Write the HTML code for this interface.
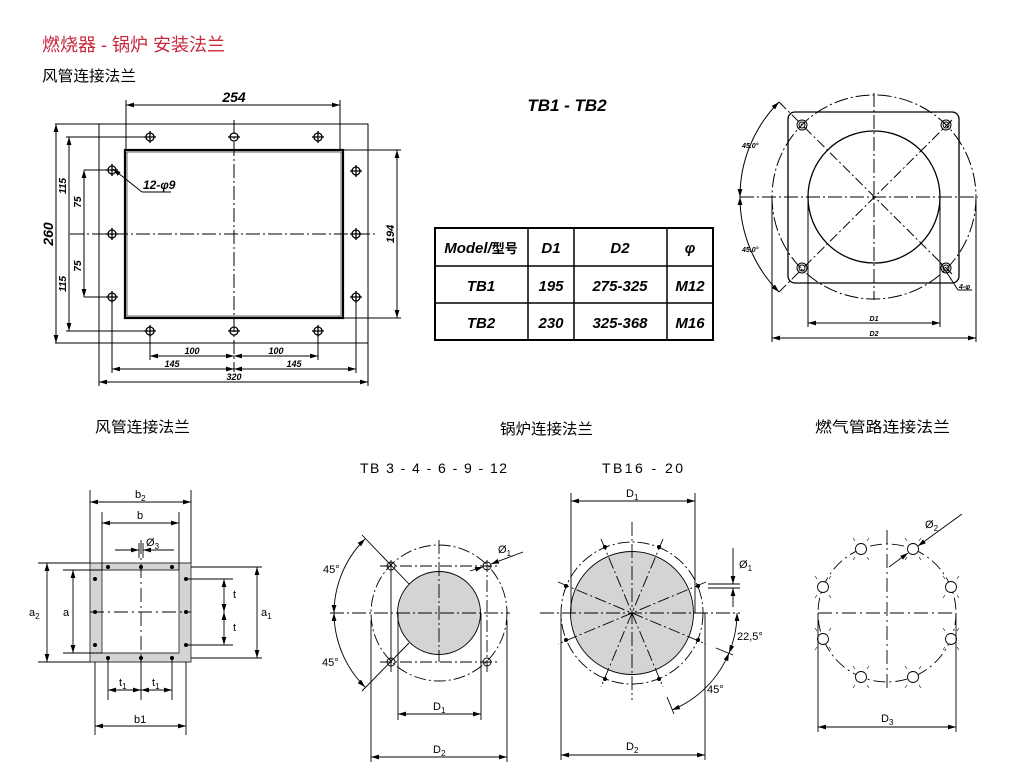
<!DOCTYPE html>
<html><head><meta charset="utf-8"><style>
html,body{margin:0;padding:0;background:#fff;}
svg{display:block;}
.cn{font-family:"Liberation Sans","Noto Sans CJK SC",sans-serif;}
.it{font-family:"Liberation Sans Narrow","Liberation Sans",sans-serif;font-style:italic;font-weight:bold;}
.dd{stroke-dasharray:14 3 2 3;}
</style></head><body>
<svg width="1010" height="779" viewBox="0 0 1010 779" xmlns="http://www.w3.org/2000/svg">
<defs>
<marker id="a" viewBox="0 0 10 6" refX="10" refY="3" markerWidth="8" markerHeight="5" orient="auto-start-reverse" markerUnits="userSpaceOnUse"><path d="M0,0 L10,3 L0,6z" fill="#000"/></marker>
</defs>
<text x="42" y="51" class="cn" font-size="18" fill="#c8283c">燃烧器 -  锅炉  安装法兰</text>
<text x="42" y="81" class="cn" font-size="15" fill="#000" textLength="94" lengthAdjust="spacingAndGlyphs">风管连接法兰</text>

<!-- Drawing 1 -->
<g stroke="#000" fill="none" stroke-width="1">
<rect x="99" y="124" width="269" height="219"/>
<rect x="125" y="150" width="218" height="168" stroke-width="2.2"/>
<rect x="127" y="152" width="214" height="164" stroke-width="0.6"/>
<line x1="55" y1="124" x2="99" y2="124"/><line x1="55" y1="343" x2="99" y2="343"/>
<line x1="234" y1="120" x2="234" y2="372" class="dd"/>
<line x1="70" y1="234" x2="375" y2="234" class="dd"/>
<g stroke-width="1.3">
<circle cx="150" cy="137" r="4"/><circle cx="234" cy="137" r="4"/><circle cx="318" cy="137" r="4"/>
<circle cx="150" cy="331" r="4"/><circle cx="234" cy="331" r="4"/><circle cx="318" cy="331" r="4"/>
<circle cx="112" cy="170" r="4"/><circle cx="112" cy="234" r="4"/><circle cx="112" cy="297" r="4"/>
<circle cx="356" cy="171" r="4"/><circle cx="356" cy="234" r="4"/><circle cx="356" cy="297" r="4"/>
<path d="M144 137h12M150 131v12M228 137h12M312 137h12M318 131v12M144 331h12M150 325v12M228 331h12M312 331h12M318 325v12M106 170h12M112 164v12M106 234h12M112 228v12M106 297h12M112 291v12M350 171h12M356 165v12M350 234h12M356 228v12M350 297h12M356 291v12"/>
</g>
<line x1="126" y1="105" x2="340" y2="105" marker-start="url(#a)" marker-end="url(#a)"/>
<line x1="126" y1="100" x2="126" y2="150"/><line x1="340" y1="100" x2="340" y2="150"/>
<line x1="56" y1="124" x2="56" y2="343" marker-start="url(#a)" marker-end="url(#a)"/>
<line x1="69" y1="137" x2="69" y2="331" marker-start="url(#a)" marker-end="url(#a)"/>
<line x1="66" y1="137" x2="150" y2="137"/><line x1="66" y1="331" x2="150" y2="331"/>
<line x1="84" y1="170" x2="84" y2="297" marker-start="url(#a)" marker-end="url(#a)"/>
<line x1="84" y1="170" x2="112" y2="170"/><line x1="84" y1="297" x2="112" y2="297"/>
<line x1="343" y1="150" x2="401" y2="150"/><line x1="343" y1="318" x2="401" y2="318"/>
<line x1="397" y1="150" x2="397" y2="318" marker-start="url(#a)" marker-end="url(#a)"/>
<line x1="150" y1="331" x2="150" y2="360"/><line x1="318" y1="331" x2="318" y2="360"/>
<line x1="150" y1="356" x2="234" y2="356" marker-start="url(#a)" marker-end="url(#a)"/>
<line x1="234" y1="356" x2="318" y2="356" marker-start="url(#a)" marker-end="url(#a)"/>
<line x1="112" y1="297" x2="112" y2="373"/><line x1="356" y1="297" x2="356" y2="373"/>
<line x1="112" y1="369" x2="234" y2="369" marker-start="url(#a)" marker-end="url(#a)"/>
<line x1="234" y1="369" x2="356" y2="369" marker-start="url(#a)" marker-end="url(#a)"/>
<line x1="99" y1="343" x2="99" y2="386"/><line x1="368" y1="343" x2="368" y2="386"/>
<line x1="99" y1="382" x2="368" y2="382" marker-start="url(#a)" marker-end="url(#a)"/>
<path d="M142 192 L113 169" marker-end="url(#a)"/><line x1="142" y1="192" x2="171" y2="192"/>
</g>
<g class="it" font-size="12" fill="#000">
<text x="234" y="102" text-anchor="middle" font-size="14">254</text>
<text x="143" y="189" font-size="12">12-φ9</text>
<text transform="translate(53,234) rotate(-90)" text-anchor="middle" font-size="14">260</text>
<text transform="translate(66,186) rotate(-90)" text-anchor="middle" font-size="10">115</text>
<text transform="translate(66,284) rotate(-90)" text-anchor="middle" font-size="10">115</text>
<text transform="translate(81,202) rotate(-90)" text-anchor="middle" font-size="10">75</text>
<text transform="translate(81,266) rotate(-90)" text-anchor="middle" font-size="10">75</text>
<text transform="translate(394,234) rotate(-90)" text-anchor="middle" font-size="11">194</text>
<text x="192" y="354" text-anchor="middle" font-size="9">100</text>
<text x="276" y="354" text-anchor="middle" font-size="9">100</text>
<text x="172" y="367" text-anchor="middle" font-size="9">145</text>
<text x="294" y="367" text-anchor="middle" font-size="9">145</text>
<text x="234" y="380" text-anchor="middle" font-size="9">320</text>
</g>

<text x="567" y="111" class="it" font-size="17" font-weight="normal" text-anchor="middle">TB1  -  TB2</text>
<g stroke="#000" fill="none">
<rect x="435" y="228" width="278" height="112" stroke-width="2"/>
<line x1="528" y1="228" x2="528" y2="340" stroke-width="1.5"/>
<line x1="574" y1="228" x2="574" y2="340" stroke-width="1.5"/>
<line x1="667" y1="228" x2="667" y2="340" stroke-width="1.5"/>
<line x1="435" y1="266" x2="713" y2="266" stroke-width="1.5"/>
<line x1="435" y1="303" x2="713" y2="303" stroke-width="1.5"/>
</g>
<g class="it" font-size="15" text-anchor="middle" fill="#000">
<text x="481" y="253"><tspan>Model/</tspan><tspan font-family="Noto Sans CJK SC" font-style="normal" font-size="13">型号</tspan></text>
<text x="551" y="253">D1</text><text x="620" y="253">D2</text><text x="690" y="253">φ</text>
<text x="481" y="291">TB1</text><text x="551" y="291">195</text><text x="620" y="291">275-325</text><text x="690" y="291">M12</text>
<text x="481" y="328">TB2</text><text x="551" y="328">230</text><text x="620" y="328">325-368</text><text x="690" y="328">M16</text>
</g>

<!-- Drawing 2 -->
<g stroke="#000" fill="none" stroke-width="1">
<circle cx="874" cy="197" r="102" class="dd"/>
<circle cx="874" cy="197" r="66" stroke-width="1.3"/>
<rect x="788" y="112" width="171" height="171" rx="7" stroke-width="1.3"/>
<circle cx="802" cy="125" r="5"/><circle cx="802" cy="125" r="3"/>
<circle cx="946" cy="125" r="5"/><circle cx="946" cy="125" r="3"/>
<circle cx="802" cy="268" r="5"/><circle cx="802" cy="268" r="3"/>
<circle cx="946" cy="268" r="5"/><circle cx="946" cy="268" r="3"/>
<line x1="874" y1="93" x2="874" y2="300" class="dd"/>
<line x1="740" y1="197" x2="978" y2="197" class="dd"/>
<line x1="779" y1="102" x2="952" y2="274" stroke-dasharray="10 3 2 3"/>
<line x1="779" y1="292" x2="952" y2="120" stroke-dasharray="10 3 2 3"/>
<path d="M779 102 A134 134 0 0 0 740 197" marker-start="url(#a)" marker-end="url(#a)"/>
<path d="M740 197 A134 134 0 0 0 779 292" marker-start="url(#a)" marker-end="url(#a)"/>
<line x1="808" y1="197" x2="808" y2="327"/><line x1="940" y1="197" x2="940" y2="327"/>
<line x1="808" y1="323" x2="940" y2="323" marker-start="url(#a)" marker-end="url(#a)"/>
<line x1="772" y1="200" x2="772" y2="342"/><line x1="976" y1="200" x2="976" y2="342"/>
<line x1="772" y1="338" x2="976" y2="338" marker-start="url(#a)" marker-end="url(#a)"/>
<line x1="940" y1="262" x2="958" y2="290"/><line x1="958" y1="290" x2="972" y2="290"/>
</g>
<g class="it" font-size="7" fill="#000">
<text x="742" y="148">45.0°</text><text x="742" y="252">45.0°</text>
<text x="874" y="321" text-anchor="middle">D1</text><text x="874" y="336" text-anchor="middle">D2</text>
<text x="959" y="289">4-φ</text>
</g>

<g class="cn" font-size="15" fill="#000">
<text x="95" y="432" textLength="95" lengthAdjust="spacingAndGlyphs">风管连接法兰</text>
<text x="500" y="434" textLength="93" lengthAdjust="spacingAndGlyphs">锅炉连接法兰</text>
<text x="815" y="432" textLength="135" lengthAdjust="spacingAndGlyphs">燃气管路连接法兰</text>
<text x="360" y="473" font-size="14" textLength="147" lengthAdjust="spacing">TB 3 - 4 - 6 - 9 - 12</text>
<text x="602" y="473" font-size="14" textLength="81" lengthAdjust="spacing">TB16  -  20</text>
</g>

<!-- Drawing 3 -->
<g stroke="#000" fill="none" stroke-width="0.9">
<path d="M90 563 H191 V662 H90Z M102 570 V653 H179 V570Z" fill="#d4d4d4" fill-rule="evenodd" stroke="#333"/>
<line x1="90" y1="612" x2="191" y2="612" stroke-dasharray="14 4 2 4"/>
<line x1="141" y1="540" x2="141" y2="662" stroke-dasharray="14 4 2 4"/>
<g fill="#000" stroke="none">
<circle cx="108" cy="567" r="2"/><circle cx="141" cy="567" r="2"/><circle cx="172" cy="567" r="2"/>
<circle cx="108" cy="658" r="2"/><circle cx="141" cy="658" r="2"/><circle cx="172" cy="658" r="2"/>
<circle cx="95" cy="579" r="2"/><circle cx="95" cy="612" r="2"/><circle cx="95" cy="645" r="2"/>
<circle cx="186" cy="579" r="2"/><circle cx="186" cy="612" r="2"/><circle cx="186" cy="645" r="2"/>
</g>
<line x1="90" y1="490" x2="90" y2="563"/><line x1="191" y1="490" x2="191" y2="563"/>
<line x1="90" y1="502" x2="191" y2="502" marker-start="url(#a)" marker-end="url(#a)"/>
<line x1="102" y1="512" x2="102" y2="570"/><line x1="179" y1="512" x2="179" y2="570"/>
<line x1="102" y1="523" x2="179" y2="523" marker-start="url(#a)" marker-end="url(#a)"/>
<line x1="115" y1="550" x2="139" y2="550" marker-end="url(#a)"/><line x1="174" y1="550" x2="143" y2="550" marker-end="url(#a)"/>
<line x1="139" y1="543" x2="139" y2="558"/><line x1="143" y1="543" x2="143" y2="558"/>
<line x1="38" y1="563" x2="90" y2="563"/><line x1="38" y1="662" x2="90" y2="662"/>
<line x1="47" y1="563" x2="47" y2="662" marker-start="url(#a)" marker-end="url(#a)"/>
<line x1="63" y1="570" x2="102" y2="570"/><line x1="63" y1="653" x2="102" y2="653"/>
<line x1="73" y1="570" x2="73" y2="653" marker-start="url(#a)" marker-end="url(#a)"/>
<line x1="191" y1="567" x2="262" y2="567"/><line x1="191" y1="658" x2="262" y2="658"/>
<line x1="257" y1="567" x2="257" y2="658" marker-start="url(#a)" marker-end="url(#a)"/>
<line x1="186" y1="579" x2="233" y2="579"/><line x1="186" y1="645" x2="233" y2="645"/>
<line x1="224" y1="579" x2="224" y2="612" marker-start="url(#a)" marker-end="url(#a)"/>
<line x1="224" y1="612" x2="224" y2="645" marker-start="url(#a)" marker-end="url(#a)"/>
<line x1="108" y1="658" x2="108" y2="700"/><line x1="141" y1="658" x2="141" y2="700"/><line x1="172" y1="658" x2="172" y2="700"/>
<line x1="108" y1="690" x2="141" y2="690" marker-start="url(#a)" marker-end="url(#a)"/>
<line x1="141" y1="690" x2="172" y2="690" marker-start="url(#a)" marker-end="url(#a)"/>
<line x1="95" y1="662" x2="95" y2="735"/><line x1="186" y1="662" x2="186" y2="735"/>
<line x1="95" y1="726" x2="186" y2="726" marker-start="url(#a)" marker-end="url(#a)"/>
</g>
<g class="cn" font-size="11" fill="#000">
<text x="135" y="498">b<tspan font-size="8" dy="3">2</tspan></text>
<text x="137" y="519">b</text>
<text x="146" y="546">Ø<tspan font-size="8" dy="3">3</tspan></text>
<text x="29" y="616">a<tspan font-size="8" dy="3">2</tspan></text>
<text x="63" y="616">a</text>
<text x="261" y="616">a<tspan font-size="8" dy="3">1</tspan></text>
<text x="233" y="598">t</text><text x="233" y="631">t</text>
<text x="119" y="686">t<tspan font-size="8" dy="3">1</tspan></text>
<text x="152" y="686">t<tspan font-size="8" dy="3">1</tspan></text>
<text x="134" y="723">b1</text>
</g>

<!-- Drawing 4 -->
<g stroke="#000" fill="none" stroke-width="0.9">
<circle cx="439" cy="613" r="68" stroke-dasharray="12 3 2 3"/>
<circle cx="439" cy="613" r="41.5" fill="#d4d4d4"/>
<line x1="380" y1="566" x2="497" y2="566" stroke-dasharray="12 3 2 3"/>
<line x1="380" y1="662" x2="497" y2="662" stroke-dasharray="12 3 2 3"/>
<line x1="391" y1="560" x2="391" y2="672"/>
<line x1="487" y1="560" x2="487" y2="672" stroke-dasharray="12 3 2 3"/>
<line x1="330" y1="613" x2="510" y2="613" stroke-dasharray="14 3 2 3"/>
<line x1="439" y1="540" x2="439" y2="662" stroke-dasharray="14 3 2 3"/>
<circle cx="391" cy="566" r="4"/><circle cx="487" cy="566" r="4"/><circle cx="391" cy="662" r="4"/><circle cx="487" cy="662" r="4"/>
<line x1="362" y1="535" x2="409" y2="584"/><line x1="362" y1="691" x2="409" y2="643"/>
<path d="M365 539 A105 105 0 0 0 334 613" marker-start="url(#a)" marker-end="url(#a)"/>
<path d="M334 613 A105 105 0 0 0 365 687" marker-start="url(#a)" marker-end="url(#a)"/>
<line x1="398" y1="613" x2="398" y2="720"/><line x1="481" y1="613" x2="481" y2="720"/>
<line x1="398" y1="714" x2="481" y2="714" marker-start="url(#a)" marker-end="url(#a)"/>
<line x1="371" y1="620" x2="371" y2="762"/><line x1="507" y1="620" x2="507" y2="762"/>
<line x1="371" y1="757" x2="507" y2="757" marker-start="url(#a)" marker-end="url(#a)"/>
<line x1="470" y1="571" x2="483" y2="567" marker-end="url(#a)"/>
<line x1="523" y1="552" x2="491" y2="564" marker-end="url(#a)"/>
</g>
<g class="cn" font-size="11" fill="#000">
<text x="323" y="573">45°</text><text x="322" y="666">45°</text>
<text x="498" y="553">Ø<tspan font-size="8" dy="3">1</tspan></text>
<text x="433" y="710">D<tspan font-size="8" dy="3">1</tspan></text>
<text x="433" y="753">D<tspan font-size="8" dy="3">2</tspan></text>
</g>

<!-- Drawing 5 -->
<g stroke="#000" fill="none" stroke-width="0.9">
<circle cx="632" cy="613" r="71" stroke-dasharray="12 3 2 3"/>
<circle cx="632" cy="613" r="61.5" fill="#d4d4d4"/>
<line x1="540" y1="613" x2="740" y2="613" stroke-dasharray="14 3 2 3"/>
<line x1="632" y1="522" x2="632" y2="700" stroke-dasharray="14 3 2 3"/>
<g stroke-dasharray="12 3 2 3">
<line x1="601" y1="539" x2="663" y2="687"/><line x1="663" y1="539" x2="601" y2="687"/>
<line x1="558" y1="582" x2="706" y2="644"/><line x1="706" y1="582" x2="558" y2="644"/>
</g>
<g fill="#000" stroke="none">
<circle cx="605" cy="547" r="2"/><circle cx="659" cy="547" r="2"/><circle cx="698" cy="586" r="2"/><circle cx="698" cy="640" r="2"/>
<circle cx="659" cy="679" r="2"/><circle cx="605" cy="679" r="2"/><circle cx="566" cy="640" r="2"/><circle cx="566" cy="586" r="2"/>
</g>
<line x1="571" y1="493" x2="571" y2="613"/><line x1="695" y1="493" x2="695" y2="613"/>
<line x1="571" y1="501" x2="695" y2="501" marker-start="url(#a)" marker-end="url(#a)"/>
<line x1="561" y1="613" x2="561" y2="760"/><line x1="705" y1="613" x2="705" y2="760"/>
<line x1="561" y1="755" x2="705" y2="755" marker-start="url(#a)" marker-end="url(#a)"/>
<line x1="733" y1="548" x2="733" y2="584" marker-end="url(#a)"/>
<line x1="733" y1="607" x2="733" y2="588" marker-end="url(#a)"/>
<line x1="708" y1="584" x2="740" y2="584"/><line x1="708" y1="588" x2="740" y2="588"/>
<path d="M737 613 A105 105 0 0 1 729 653" marker-start="url(#a)" marker-end="url(#a)"/>
<path d="M729 653 A105 105 0 0 1 672 710" marker-start="url(#a)" marker-end="url(#a)"/>
<line x1="716" y1="648" x2="733" y2="655"/><line x1="667" y1="697" x2="674" y2="714"/>
</g>
<g class="cn" font-size="11" fill="#000">
<text x="626" y="497">D<tspan font-size="8" dy="3">1</tspan></text>
<text x="626" y="750">D<tspan font-size="8" dy="3">2</tspan></text>
<text x="739" y="568">Ø<tspan font-size="8" dy="3">1</tspan></text>
<text x="737" y="640">22,5°</text>
<text x="707" y="693">45°</text>
</g>

<!-- Drawing 6 -->
<g stroke="#000" fill="none" stroke-width="0.9">
<circle cx="887" cy="613" r="69" stroke-dasharray="12 4 2 4"/>
<line x1="818" y1="613" x2="956" y2="613" stroke-dasharray="14 4 2 4"/>
<line x1="887" y1="530" x2="887" y2="690" stroke-dasharray="14 4 2 4"/>
<g fill="#fff">
<circle cx="861" cy="549" r="5.5"/><circle cx="913" cy="549" r="5.5"/><circle cx="951" cy="587" r="5.5"/><circle cx="951" cy="639" r="5.5"/>
<circle cx="913" cy="677" r="5.5"/><circle cx="861" cy="677" r="5.5"/><circle cx="823" cy="639" r="5.5"/><circle cx="823" cy="587" r="5.5"/>
</g>
<g stroke-width="0.6">
<path d="M855 541l-2-3M867 541l2-3M855 557l-2 3M867 557l2 3M907 541l-2-3M919 541l2-3M907 557l-2 3M919 557l2 3M945 579l-2-3M957 579l2-3M945 595l-2 3M957 595l2 3M945 631l-2-3M957 631l2-3M945 647l-2 3M957 647l2 3M907 669l-2-3M919 669l2-3M907 685l-2 3M919 685l2 3M855 669l-2-3M867 669l2-3M855 685l-2 3M867 685l2 3M817 631l-2-3M829 631l2-3M817 647l-2 3M829 647l2 3M817 579l-2-3M829 579l2-3M817 595l-2 3M829 595l2 3"/>
</g>
<line x1="818" y1="613" x2="818" y2="732"/><line x1="956" y1="613" x2="956" y2="732"/>
<line x1="818" y1="727" x2="956" y2="727" marker-start="url(#a)" marker-end="url(#a)"/>
<line x1="889" y1="567" x2="908" y2="553" marker-end="url(#a)"/>
<line x1="962" y1="514" x2="918" y2="546" marker-end="url(#a)"/>
</g>
<g class="cn" font-size="11" fill="#000">
<text x="925" y="528">Ø<tspan font-size="8" dy="3">2</tspan></text>
<text x="881" y="722">D<tspan font-size="8" dy="3">3</tspan></text>
</g>
</svg>
</body></html>
